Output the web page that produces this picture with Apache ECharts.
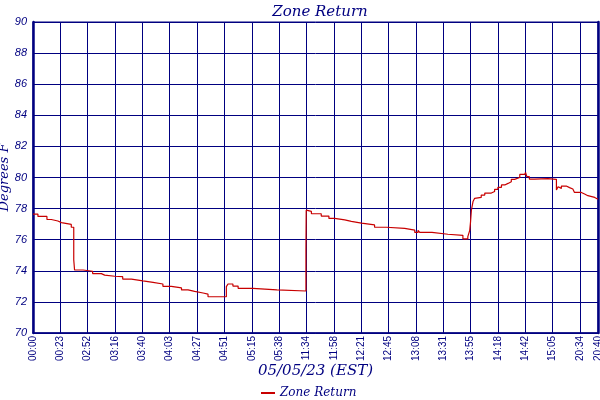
<!DOCTYPE html>
<html>
<head>
<meta charset="utf-8">
<script src="https://cdn.jsdelivr.net/npm/echarts@6/dist/echarts.min.js"></script>
<style>html,body{margin:0;padding:0;background:#fff}#c{width:600px;height:400px}</style>
</head>
<body>
<div id="c"></div>
<script>
// Tick labels and their positions along the sample axis
const tickLabels = ['00:00','00:23','02:52','03:16','03:40','04:03','04:27','04:51','05:15','05:38','11:34','11:58','12:21','12:45','13:08','13:31','13:55','14:18','14:42','15:05','20:34','20:40'];
const tickPositions = [0,1,2,3,4,5,6,7,8,9,10,11,12,13,14,15,16,17,18,19,20,20.66];

// Series: sample position (in tick units) where each level starts, and temperature (deg F)
const samplePos = [
  0, 0.18, 0.51, 0.67, 0.91, 1.04, 1.40, 1.49, 1.52, 1.83, 2.18, 2.50, 2.62, 2.99, 3.28, 3.60, 4.02, 4.39, 4.75, 5.06, 5.43, 5.67, 5.91, 6.22, 6.40, 6.83, 6.90,
  7.07, 7.13, 7.31, 7.50, 7.86, 7.92, 8.04, 8.92, 9.98, 9.99,
  10.02, 10.05, 10.18, 10.54, 10.82, 11.03, 11.40, 11.64, 12.01, 12.49, 12.92, 13.59, 13.96, 14.08, 14.14, 14.59, 15.17, 15.72, 15.90, 15.97,
  16.00, 16.03, 16.09, 16.15, 16.21, 16.39, 16.52, 16.76, 16.88, 17.00, 17.13, 17.25, 17.37, 17.49, 17.61, 17.80, 17.98, 18.01, 18.06, 18.15, 18.34, 18.83,
  19.14, 19.20, 19.26, 19.32, 19.50, 19.62, 19.74, 19.80, 20.05, 20.17, 20.29, 20.54, 20.66
];
const temps = [
  77.65, 77.5, 77.3, 77.2, 77.1, 76.98, 76.8, 74.7, 74.05, 73.97, 73.82, 73.72, 73.65, 73.62, 73.47, 73.35, 73.26, 73.15, 73.0, 72.9, 72.77, 72.68, 72.57, 72.5, 72.33, 72.25, 72.33,
  72.98, 73.15, 73.02, 72.87, 72.77, 72.87, 72.77, 72.7, 75.3, 77.9,
  77.9, 77.82, 77.67, 77.52, 77.37, 77.27, 77.18, 77.07, 76.95, 76.8, 76.73, 76.62, 76.47, 76.6, 76.47, 76.35, 76.28, 76.05, 76.2, 76.6,
  77.16, 77.9, 78.45, 78.66, 78.72, 78.87, 79.0, 79.1, 79.24, 79.37, 79.52, 79.62, 79.73, 79.88, 80.0, 80.2, 80.27, 80.33, 80.05, 79.9, 79.93, 79.88,
  79.2, 79.4, 79.3, 79.45, 79.35, 79.26, 79.15, 79.04, 78.94, 78.83, 78.72, 78.6, 78.6
];

const navy = '#000080';
const serif = '"DejaVu Serif", serif';
const sans = '"Liberation Sans", Arial, sans-serif';
const chart = echarts.init(document.getElementById('c'), null, {renderer: 'canvas'});
chart.setOption({
  animation: false,
  backgroundColor: '#fff',
  title: {
    text: 'Zone Return', left: 315, top: 0, textAlign: 'center',
    textStyle: {color: navy, fontFamily: serif, fontStyle: 'italic', fontWeight: 'normal', fontSize: 15}
  },
  legend: {
    data: ['Zone Return'], left: 256, top: 382, icon: 'rect', itemWidth: 14, itemHeight: 2, itemGap: 4,
    textStyle: {color: navy, fontFamily: serif, fontStyle: 'italic', fontSize: 12}
  },
  grid: {left: 33, right: 2, top: 22, bottom: 67, show: true, borderColor: navy, borderWidth: 1,
         containLabel: false, outerBoundsMode: 'none'},
  xAxis: {
    type: 'value', min: 0, max: 20.66,
    name: '05/05/23 (EST)', nameLocation: 'middle', nameGap: 31, nameMoveOverlap: false,
    nameTextStyle: {color: navy, fontFamily: serif, fontStyle: 'italic', fontSize: 15},
    axisLine: {show: true, onZero: false, lineStyle: {color: navy, width: 1.5}},
    axisTick: {show: false, customValues: tickPositions},
    axisLabel: {
      customValues: tickPositions, rotate: 90, margin: 3, color: navy, fontFamily: sans, fontSize: 10,
      formatter: function (v) { const i = tickPositions.indexOf(v); return i >= 0 ? tickLabels[i] : ''; }
    },
    splitLine: {show: true, lineStyle: {color: navy, width: 1}}
  },
  yAxis: [{
    type: 'value', min: 70, max: 90, interval: 2,
    name: 'Degrees F', nameLocation: 'middle', nameGap: 22, nameMoveOverlap: false,
    nameTextStyle: {color: navy, fontFamily: serif, fontStyle: 'italic', fontSize: 13},
    axisLine: {show: true, lineStyle: {color: navy, width: 2.5}},
    axisTick: {show: false},
    axisLabel: {color: navy, fontFamily: sans, fontStyle: 'italic', fontSize: 11, margin: 6},
    splitLine: {show: true, lineStyle: {color: navy, width: 1}}
  }, {
    type: 'value', min: 70, max: 90, interval: 2, position: 'right',
    axisLine: {show: true, lineStyle: {color: navy, width: 2.5}},
    axisTick: {show: false}, axisLabel: {show: false}, splitLine: {show: false}
  }],
  series: [{
    name: 'Zone Return', type: 'line', step: 'end', showSymbol: false,
    color: '#c80000', lineStyle: {color: '#c80000', width: 1.2},
    data: samplePos.map((x, i) => [x, temps[i]])
  }]
});
</script>
</body>
</html>
